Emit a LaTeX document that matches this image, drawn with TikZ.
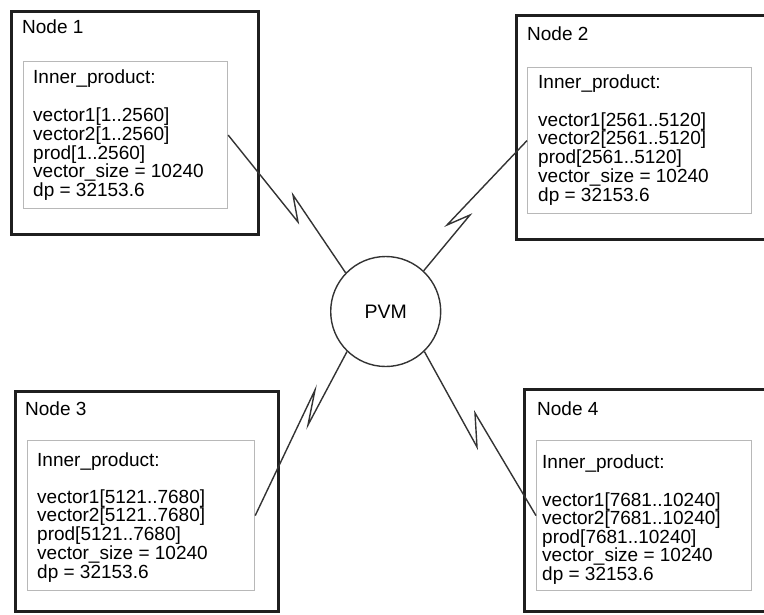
\documentclass[tikz,border=0pt]{standalone}
\usepackage{fontspec}
\setmainfont{Liberation Sans}
\begin{document}
\begin{tikzpicture}[x=1pt,y=-1pt,
  outerbox/.style={draw=black!88, line width=3pt, inner sep=0pt, anchor=north west},
  innerbox/.style={draw=black!28, line width=1.2pt, inner sep=0pt, anchor=north west},
  lbl/.style={anchor=base west, inner sep=0pt, font=\fontsize{19}{19}\selectfont},
  conn/.style={draw=black!80, line width=1.4pt, line join=miter}]
\useasboundingbox (0,0) rectangle (764,614);
% outer boxes
\node[outerbox, minimum width=247pt, minimum height=223pt] (n1) at (10,10) {};
\node[outerbox, minimum width=253pt, minimum height=224pt] (n2) at (515,14) {};
\node[outerbox, minimum width=263pt, minimum height=220pt] (n3) at (14,390) {};
\node[outerbox, minimum width=245pt, minimum height=222pt] (n4) at (523,388) {};
% inner boxes
\node[innerbox, minimum width=204pt, minimum height=147pt] (in1) at (23,61) {};
\node[innerbox, minimum width=224pt, minimum height=146pt] (in2) at (527,67) {};
\node[innerbox, minimum width=227pt, minimum height=150pt] (in3) at (27,440) {};
\node[innerbox, minimum width=215pt, minimum height=150pt] (in4) at (536,440) {};
% texts
\foreach \b/\tx/\ty/\lx/\iy/\vy/\s/\r in {
  1/22/33/33/83/121.5/18.8/1..2560,
  2/527/40/538/88/126/18.8/2561..5120,
  3/25/415/37/466.5/503/18.8/5121..7680,
  4/537/415/542/468/506/18.6/7681..10240}
{
  \node[lbl] (t\b) at (\tx,\ty) {Node \b};
  \node[lbl] (ip\b) at (\lx,\iy) {Inner\_product:};
  \node[lbl] (va\b) at (\lx,\vy) {vector1[\r]};
  \node[lbl] (vb\b) at (\lx,\vy+\s) {vector2[\r]};
  \node[lbl] (pr\b) at (\lx,\vy+2*\s) {prod[\r]};
  \node[lbl] (vs\b) at (\lx,\vy+3*\s) {vector\_size = 10240};
  \node[lbl] (dp\b) at (\lx,\vy+4*\s) {dp = 32153.6};
}
% PVM
\node[circle, draw=black!80, line width=1.4pt, minimum size=110pt, inner sep=0pt,
  font=\fontsize{19.5}{20}\selectfont] (pvm) at (385.7,311.5) {PVM};
% zigzag points
\coordinate (z1a) at (298,222); \coordinate (z1b) at (293,195);
\coordinate (z2a) at (447,225); \coordinate (z2b) at (470,215);
\coordinate (z3a) at (315,390); \coordinate (z3b) at (308,425);
\coordinate (z4a) at (477,447); \coordinate (z4b) at (475,413);
% connectors
\draw[conn] (in1.east) -- (z1a) -- (z1b) -- (pvm.136);
\draw[conn] (in2.west) -- (z2a) -- (z2b) -- (pvm.47);
\draw[conn] (in3.east) -- (z3a) -- (z3b) -- (pvm.226);
\draw[conn] (pvm.314) -- (z4a) -- (z4b) -- (in4.west);
\end{tikzpicture}
\end{document}
